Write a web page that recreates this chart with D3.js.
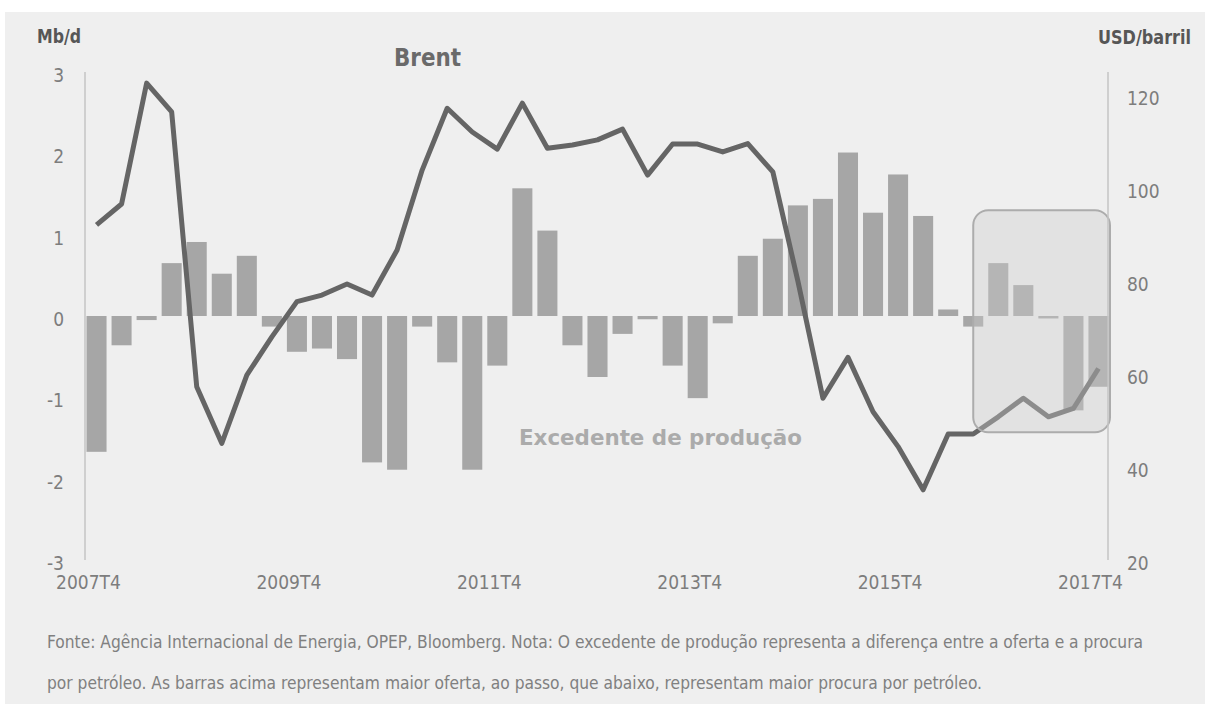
<!DOCTYPE html>
<html>
<head>
<meta charset="utf-8">
<script src="https://cdn.jsdelivr.net/npm/d3@7"></script>
<style>
  body { margin: 0; background: #fff; }
  svg { display: block; }
</style>
</head>
<body>
<svg width="1205" height="704"></svg>
<script>
// Quarters on the category axis
const quarters = [
  "2007T4",
  "2008T1", "2008T2", "2008T3", "2008T4",
  "2009T1", "2009T2", "2009T3", "2009T4",
  "2010T1", "2010T2", "2010T3", "2010T4",
  "2011T1", "2011T2", "2011T3", "2011T4",
  "2012T1", "2012T2", "2012T3", "2012T4",
  "2013T1", "2013T2", "2013T3", "2013T4",
  "2014T1", "2014T2", "2014T3", "2014T4",
  "2015T1", "2015T2", "2015T3", "2015T4",
  "2016T1", "2016T2", "2016T3", "2016T4",
  "2017T1", "2017T2", "2017T3", "2017T4"
];

// Excedente de produção, Mb/d (bars, left axis)
const surplus = [
  -1.67, -0.36, -0.05, 0.65, 0.91, 0.52, 0.74, -0.13, -0.44,
  -0.40, -0.53, -1.80, -1.89, -0.13, -0.57, -1.89, -0.61,
  1.57, 1.05, -0.36, -0.75, -0.22, -0.04, -0.61, -1.01,
  -0.09, 0.74, 0.95, 1.36, 1.44, 2.01, 1.27, 1.74,
  1.23, 0.08, -0.13, 0.65, 0.38, -0.03, -1.16, -0.87
];

// Brent, USD/barril (line, right axis)
const brent = [
  92.1, 96.6, 122.6, 116.4, 57.3, 45.1, 59.8, 68.0, 75.6,
  77.0, 79.4, 77.0, 86.7, 103.9, 117.2, 112.1, 108.4,
  118.3, 108.6, 109.3, 110.4, 112.7, 102.8, 109.5, 109.5,
  107.8, 109.6, 103.5, 80.0, 54.8, 63.6, 51.9, 44.4,
  35.1, 47.1, 47.1, 50.8, 54.8, 50.8, 52.6, 61.2
];

const xTickLabels = ["2007T4", "2009T4", "2011T4", "2013T4", "2015T4", "2017T4"];
const leftTicks = [3, 2, 1, 0, -1, -2, -3];
const rightTicks = [20, 40, 60, 80, 100, 120];

// highlighted recent period (rounded box)
const highlightFrom = "2016T3";
const highlightTop = 1.3, highlightBottom = -1.43;

const footLines = [
  "Fonte: Agência Internacional de Energia, OPEP, Bloomberg. Nota: O excedente de produção representa a diferença entre a oferta e a procura",
  "por petróleo. As barras acima representam maior oferta, ao passo, que abaixo, representam maior procura por petróleo."
];

const FONT = "'Liberation Sans Narrow', 'DejaVu Sans Condensed', 'Roboto Condensed', 'Liberation Sans', Arial, sans-serif";

const svg = d3.select("svg"),
      mLeft = 85, mRight = 1108, mTop = 72, mBottom = 560;

// panel background
svg.append("rect")
  .attr("x", 5).attr("y", 12)
  .attr("width", 1200).attr("height", 692)
  .attr("fill", "#efefef");

const x = d3.scaleBand()
  .domain(quarters)
  .range([mLeft - 1, mRight + 3])
  .paddingInner(0.2)
  .paddingOuter(0.1);

const yL = d3.scaleLinear().domain([-3, 3]).range([mBottom, mTop]);
const yR = d3.scaleLinear().domain([20, 125]).range([mBottom, mTop]);

// Bars
svg.append("g")
  .selectAll("rect")
  .data(surplus)
  .join("rect")
  .attr("x", (d, i) => x(quarters[i]))
  .attr("width", x.bandwidth())
  .attr("y", d => yL(Math.max(0, d)))
  .attr("height", d => Math.abs(yL(d) - yL(0)))
  .attr("fill", "#a6a6a6");

// Brent line
const line = d3.line()
  .x((d, i) => x(quarters[i]) + x.bandwidth() / 2)
  .y(d => yR(d));

svg.append("path")
  .datum(brent)
  .attr("d", line)
  .attr("fill", "none")
  .attr("stroke", "#656565")
  .attr("stroke-width", 5)
  .attr("stroke-linejoin", "round");

// Highlight box over last quarters
const boxX = x(highlightFrom) + x.bandwidth() / 2;
svg.append("rect")
  .attr("x", boxX)
  .attr("y", yL(highlightTop))
  .attr("width", mRight + 2 - boxX)
  .attr("height", yL(highlightBottom) - yL(highlightTop))
  .attr("rx", 15)
  .attr("fill", "rgb(205,205,205)")
  .attr("fill-opacity", 0.38)
  .attr("stroke", "#acacac")
  .attr("stroke-width", 2);

// Axis lines
[mLeft, mRight].forEach(ax => {
  svg.append("line")
    .attr("x1", ax).attr("x2", ax)
    .attr("y1", mTop).attr("y2", mBottom)
    .attr("stroke", "#c4c4c4")
    .attr("stroke-width", 1.5);
});

// Left axis labels
const yAxisL = svg.append("g")
  .attr("transform", `translate(${mLeft},0)`)
  .call(d3.axisLeft(yL).tickValues(leftTicks).tickSize(0).tickPadding(21).tickFormat(d => String(d)));

// Right axis labels
const yAxisR = svg.append("g")
  .attr("transform", `translate(${mRight},0)`)
  .call(d3.axisRight(yR).tickValues(rightTicks).tickSize(0).tickPadding(19).tickFormat(d => String(d)));

// Bottom axis labels (centred on the start of the quarter)
const xAxis = svg.append("g")
  .attr("transform", `translate(0,${mBottom})`)
  .call(d3.axisBottom(x).tickValues(xTickLabels).tickSize(0).tickPadding(16));

xAxis.selectAll("text").attr("dx", -x.bandwidth() / 2 + 2);

[yAxisL, yAxisR, xAxis].forEach(a => {
  a.select(".domain").remove();
  a.selectAll("text")
    .attr("font-family", FONT)
    .attr("font-size", 19)
    .attr("fill", "#7d7d7d");
});
yAxisL.selectAll("text").attr("dy", "0.5em");
yAxisR.selectAll("text").attr("dy", "0.5em");

// Unit titles
svg.append("text")
  .attr("x", 37).attr("y", 43)
  .attr("font-family", FONT).attr("font-weight", "bold")
  .attr("font-size", 19).attr("fill", "#565656")
  .attr("textLength", 44).attr("lengthAdjust", "spacingAndGlyphs")
  .text("Mb/d");

svg.append("text")
  .attr("x", 1098).attr("y", 44)
  .attr("font-family", FONT).attr("font-weight", "bold")
  .attr("font-size", 19).attr("fill", "#565656")
  .attr("textLength", 93).attr("lengthAdjust", "spacingAndGlyphs")
  .text("USD/barril");

// Series annotations
svg.append("text")
  .attr("x", 394).attr("y", 66)
  .attr("font-family", FONT).attr("font-weight", "bold")
  .attr("font-size", 25).attr("fill", "#6a6a6a")
  .attr("textLength", 67).attr("lengthAdjust", "spacingAndGlyphs")
  .text("Brent");

svg.append("text")
  .attr("x", 519).attr("y", 445)
  .attr("font-family", "'DejaVu Sans', sans-serif").attr("font-weight", "bold")
  .attr("font-size", 21).attr("fill", "#ababab")
  .attr("textLength", 283).attr("lengthAdjust", "spacingAndGlyphs")
  .text("Excedente de produção");

// Footnote
const footLengths = [1096, 935];
footLines.forEach((t, i) => {
  svg.append("text")
    .attr("x", 47).attr("y", 648 + i * 41)
    .attr("font-family", FONT)
    .attr("font-size", 18).attr("fill", "#808080")
    .attr("textLength", footLengths[i]).attr("lengthAdjust", "spacingAndGlyphs")
    .text(t);
});
</script>
</body>
</html>
